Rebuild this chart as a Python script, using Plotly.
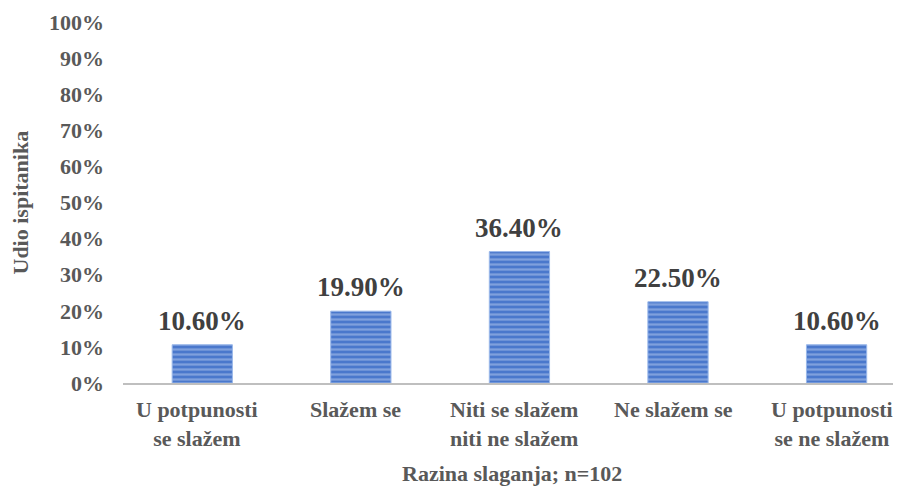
import plotly.graph_objects as go

categories = [
    "U potpunosti<br>se slažem",
    "Slažem se",
    "Niti se slažem<br>niti ne slažem",
    "Ne slažem se",
    "U potpunosti<br>se ne slažem",
]
shares = [0.106, 0.199, 0.364, 0.225, 0.106]
share_labels = ["10.60%", "19.90%", "36.40%", "22.50%", "10.60%"]
y_ticks = [i / 10 for i in range(11)]
y_tick_labels = [f"{i * 10}%" for i in range(11)]

font_family = "Times New Roman, Liberation Serif, Tinos, DejaVu Serif, serif"
text_grey = "#595959"

fig = go.Figure()

fig.add_trace(go.Bar(
    x=list(range(len(categories))),
    y=shares,
    width=0.38,
    marker={
        "color": "#4a78cc",
        "line": {"width": 1, "color": "#9ab8ea"},
        "pattern": {
            "shape": "-",
            "fgcolor": "#b4c8ee",
            "bgcolor": "#4a78cc",
            "size": 5,
            "solidity": 0.45,
        },
    },
    hoverinfo="skip",
))

# value labels above bars
for i, (value, label) in enumerate(zip(shares, share_labels)):
    fig.add_annotation(
        x=i, y=value, text=f"<b>{label}</b>",
        showarrow=False, yanchor="bottom", yshift=7,
        font={"family": font_family, "size": 27, "color": "#404040"},
    )

# category labels, nudged a little left so the last one fits
for i, category in enumerate(categories):
    fig.add_annotation(
        x=i, y=0, text=f"<b>{category}</b>",
        showarrow=False, yanchor="top", yshift=-12, xshift=-5,
        font={"family": font_family, "size": 22, "color": text_grey},
    )

fig.add_annotation(
    x=0.5, y=0, xref="paper", yref="paper",
    text="<b>Razina slaganja; n=102</b>",
    showarrow=False, yanchor="middle", yshift=-90,
    font={"family": font_family, "size": 22, "color": text_grey},
)

fig.add_annotation(
    x=0, y=0.5, xref="paper", yref="paper",
    text="<b>Udio ispitanika</b>", textangle=-90,
    showarrow=False, xanchor="center", xshift=-103,
    font={"family": font_family, "size": 22, "color": text_grey},
)

# page body adds an 8px margin, so the figure is made 8px smaller
fig.update_layout(
    width=893,
    height=478,
    paper_bgcolor="white",
    plot_bgcolor="white",
    margin={"l": 115, "r": 1, "t": 14, "b": 103},
    showlegend=False,
    font={"family": font_family, "color": text_grey},
)

fig.update_xaxes(
    range=[-0.5, 4.4],
    showticklabels=False,
    showline=True,
    linecolor="#bfbfbf",
    linewidth=2,
    showgrid=False,
    ticks="",
)

fig.update_yaxes(
    range=[0, 1],
    tickvals=y_ticks,
    ticktext=[f"<b>{t}</b>" for t in y_tick_labels],
    tickfont={"family": font_family, "size": 22, "color": text_grey},
    ticklabelstandoff=18,
    showgrid=False,
    zeroline=False,
    showline=False,
    ticks="",
)

fig.write_html("out.html")
